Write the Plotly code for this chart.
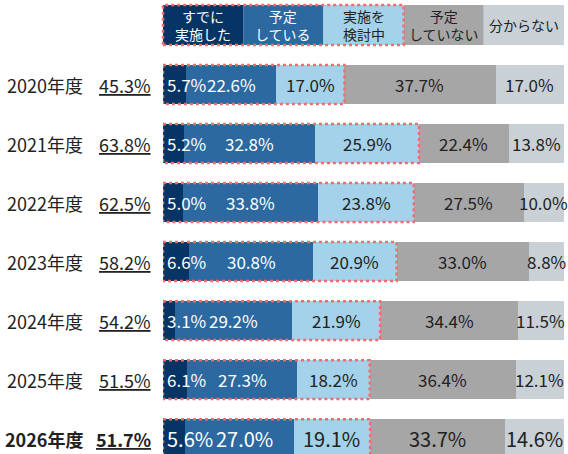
import plotly.graph_objects as go

years = ["2020年度", "2021年度", "2022年度", "2023年度", "2024年度", "2025年度", "2026年度"]
totals = ["45.3%", "63.8%", "62.5%", "58.2%", "54.2%", "51.5%", "51.7%"]
categories = ["すでに<br>実施した", "予定<br>している", "実施を<br>検討中", "予定<br>していない", "分からない"]
done = [5.7, 5.2, 5.0, 6.6, 3.1, 6.1, 5.6]
planned = [22.6, 32.8, 33.8, 30.8, 29.2, 27.3, 27.0]
considering = [17.0, 25.9, 23.8, 20.9, 21.9, 18.2, 19.1]
not_planned = [37.7, 22.4, 27.5, 33.0, 34.4, 36.4, 33.7]
unknown = [17.0, 13.8, 10.0, 8.8, 11.5, 12.1, 14.6]

series = [done, planned, considering, not_planned, unknown]
colors = ["#063464", "#2b69a0", "#a3d2ea", "#a6a6a6", "#c9d0d6"]
text_colors = ["#ffffff", "#ffffff", "#222222", "#222222", "#222222"]
red = "#f76a70"
FONT = "Noto Sans CJK JP"

fig = go.Figure()
ypos = list(range(len(years)))
for vals, col, name in zip(series, colors, categories):
    fig.add_trace(go.Bar(
        y=ypos, x=vals, orientation="h", marker=dict(color=col, line=dict(width=0)),
        name=name, showlegend=False, hoverinfo="skip"))

annotations = []
shapes = []
last = len(years) - 1
for i in ypos:
    big = (i == last)
    fs = 20 if big else 17
    cum = 0.0
    for k, vals in enumerate(series):
        v = vals[i]
        txt = f"{v:.1f}%"
        if k == 0:
            annotations.append(dict(x=cum + 0.6, y=i, xref="x", yref="y", text=txt,
                                    xanchor="left", showarrow=False,
                                    font=dict(size=fs, color=text_colors[k], family=FONT)))
        else:
            annotations.append(dict(x=cum + v / 2 + (1.2 if (big and k == 1) else 0), y=i,
                                    xref="x", yref="y", text=txt,
                                    xanchor="center", showarrow=False,
                                    font=dict(size=fs, color=text_colors[k], family=FONT)))
        cum += v
    # dotted frame around the first three segments
    shapes.append(dict(type="rect", xref="x", yref="y", x0=0, x1=done[i] + planned[i] + considering[i],
                       y0=i - 0.33, y1=i + 0.33, line=dict(color=red, width=2.5, dash="dot"),
                       fillcolor="rgba(0,0,0,0)", layer="above"))
    yr = f"<b>{years[i]}</b>" if big else years[i]
    tt = f"<b><u>{totals[i]}</u></b>" if big else f"<u>{totals[i]}</u>"
    annotations.append(dict(x=-0.194, y=i, xref="paper", yref="y", text=yr, xanchor="right",
                            showarrow=False, font=dict(size=18, color="#222222", family=FONT)))
    annotations.append(dict(x=-0.025, y=i, xref="paper", yref="y", text=tt, xanchor="right",
                            showarrow=False, font=dict(size=18, color="#222222", family=FONT)))

# legend row on top
ly0, ly1 = (454 - 45) / 399, (454 - 5) / 399
n = len(categories)
for k, (name, col) in enumerate(zip(categories, colors)):
    x0, x1 = k / n, (k + 1) / n
    shapes.append(dict(type="rect", xref="paper", yref="paper", x0=x0, x1=x1, y0=ly0, y1=ly1,
                       fillcolor=col, line=dict(width=0), layer="below"))
    annotations.append(dict(x=(x0 + x1) / 2, y=(ly0 + ly1) / 2, xref="paper", yref="paper",
                            text=name, showarrow=False, xanchor="center", yanchor="middle",
                            font=dict(size=14, color=text_colors[k], family=FONT)))
shapes.append(dict(type="rect", xref="paper", yref="paper", x0=0, x1=3 / n, y0=ly0, y1=ly1,
                   line=dict(color=red, width=2.5, dash="dot"), fillcolor="rgba(0,0,0,0)", layer="above"))

fig.update_layout(
    width=568, height=454, barmode="stack", bargap=0.34,
    margin=dict(l=163, r=4, t=55, b=0),
    paper_bgcolor="white", plot_bgcolor="white",
    xaxis=dict(range=[0, 100.1], visible=False, fixedrange=True),
    yaxis=dict(range=[6.26, -0.5], visible=False, fixedrange=True),
    annotations=annotations, shapes=shapes,
    font=dict(family=FONT),
)
fig.write_html("out.html", config={"displayModeBar": False},
               post_script="document.body.style.margin='0';document.body.style.overflow='hidden';")
